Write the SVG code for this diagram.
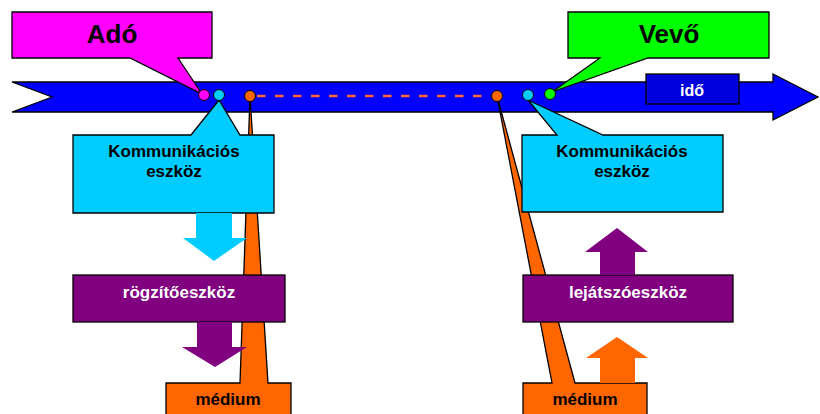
<svg xmlns="http://www.w3.org/2000/svg" width="820" height="414" viewBox="0 0 820 414">
  <style>
    .shape { stroke: #000; stroke-width: 1.3; stroke-linejoin: miter; }
    .lbl { font-family: "Liberation Sans", Arial, sans-serif; font-weight: bold; text-anchor: middle; }
    .big { font-size: 26px; fill: #000; }
    .mid { font-size: 17px; fill: #000; }
    .inv { font-size: 17px; fill: #fff; }
    .dot { stroke: #000; stroke-width: 1; }
  </style>
  <rect width="820" height="414" fill="#fff"/>

  <!-- time axis -->
  <g id="timeline">
    <path class="shape" fill="#0000FF" d="M12,82 H773 V74 L818,97 L773,120 V112 H12 L52,97 Z"/>
  </g>
  <g id="ido">
    <rect class="shape" x="646" y="74" width="93" height="30" fill="#0000DD"/>
    <text class="lbl inv" x="692" y="96" style="font-size:16px">idő</text>
  </g>

  <!-- sender / receiver callouts -->
  <g id="ado">
    <path class="shape" fill="#FF00FF" d="M12,12 H212 V58 H178 L202,94 L130,58 H12 Z"/>
    <text class="lbl big" x="112" y="43">Adó</text>
  </g>
  <g id="vevo">
    <path class="shape" fill="#00FF00" d="M568,12 H769 V58 H648 L552,92 L600,58 H568 Z"/>
    <text class="lbl big" x="669" y="43">Vevő</text>
  </g>

  <!-- storage media with pointers up to the axis -->
  <g id="medium-left">
    <path class="shape" fill="#FF6600" d="M166,383 H240 L250,96 L268,383 H291 V420 H166 Z"/>
    <text class="lbl mid" x="228" y="405">médium</text>
  </g>
  <g id="medium-right">
    <path class="shape" fill="#FF6600" d="M523,383 H552 L497,96 L575,383 H647 V420 H523 Z"/>
    <text class="lbl mid" x="585" y="405">médium</text>
  </g>

  <!-- communication devices -->
  <g id="komm-left">
    <path class="shape" fill="#00CCFF" d="M73,135 H191 L219,100 L240,135 H274 V213 H73 Z"/>
    <text class="lbl mid" x="174" y="157">Kommunikációs</text>
    <text class="lbl mid" x="174" y="177">eszköz</text>
  </g>
  <g id="komm-right">
    <path class="shape" fill="#00CCFF" d="M522,135 H557 L528,100 L603,135 H723 V212 H522 Z"/>
    <text class="lbl mid" x="622" y="157">Kommunikációs</text>
    <text class="lbl mid" x="622" y="177">eszköz</text>
  </g>

  <!-- recording / playback devices -->
  <g id="rogzito">
    <rect class="shape" x="73" y="275" width="212" height="47" fill="#800080"/>
    <text class="lbl inv" x="179" y="298">rögzítőeszköz</text>
  </g>
  <g id="lejatszo">
    <rect class="shape" x="523" y="275" width="210" height="47" fill="#800080"/>
    <text class="lbl inv" x="628" y="298">lejátszóeszköz</text>
  </g>

  <!-- connectors: block arrows, dashed span and axis points -->
  <g id="connectors">
    <path fill="#00CCFF" d="M196,213 H232 V238 H247 L214,261 L183,238 H196 Z"/>
    <path fill="#800080" d="M197,322 H232 V347 H247 L215,367 L182,347 H197 Z"/>
    <path fill="#800080" d="M600,275 H635 V252 H648 L617,228 L585,252 H600 Z"/>
    <path fill="#FF6600" d="M600,383 H635 V358 H648 L617,337 L586,358 H600 Z"/>
    <line x1="257" y1="96" x2="492" y2="96" stroke="#FF6633" stroke-width="2.5" stroke-dasharray="8.5 9.5"/>
    <circle class="dot" cx="204" cy="95" r="5.5" fill="#FF00FF"/>
    <circle class="dot" cx="219" cy="95" r="5.5" fill="#00CCFF"/>
    <circle class="dot" cx="250" cy="96" r="5.5" fill="#FF6600"/>
    <circle class="dot" cx="497" cy="96" r="5.5" fill="#FF6600"/>
    <circle class="dot" cx="528" cy="95" r="5.5" fill="#00CCFF"/>
    <circle class="dot" cx="550" cy="94" r="5.5" fill="#00FF00"/>
  </g>
</svg>
